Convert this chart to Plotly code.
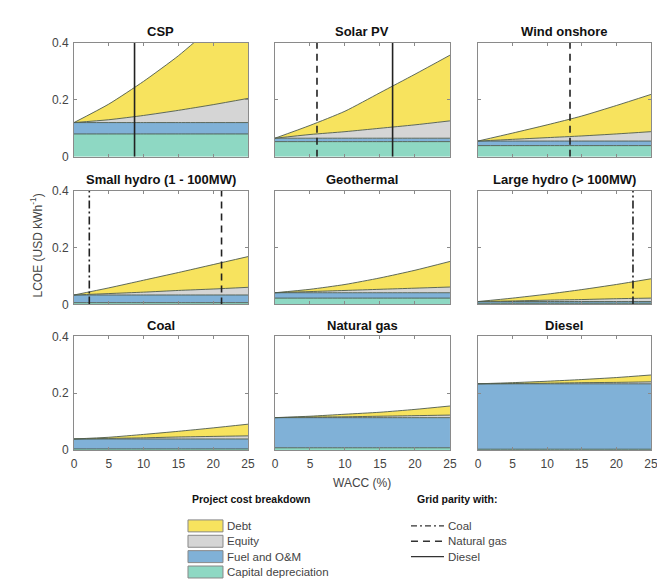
import plotly.graph_objects as go

W, H = 665, 581
wacc = [0, 5, 10, 15, 20, 25]

techs = ["CSP", "Solar PV", "Wind onshore",
         "Small hydro (1 - 100MW)", "Geothermal", "Large hydro (> 100MW)",
         "Coal", "Natural gas", "Diesel"]

# component values (USD/kWh) at each WACC
capital = {
    "CSP": [0.080]*6, "Solar PV": [0.053]*6, "Wind onshore": [0.039]*6,
    "Small hydro (1 - 100MW)": [0.006]*6, "Geothermal": [0.022]*6,
    "Large hydro (> 100MW)": [0.004]*6, "Coal": [0.004]*6,
    "Natural gas": [0.008]*6, "Diesel": [0.003]*6,
}
fuel_om = {
    "CSP": [0.040]*6, "Solar PV": [0.012]*6, "Wind onshore": [0.016]*6,
    "Small hydro (1 - 100MW)": [0.027]*6, "Geothermal": [0.019]*6,
    "Large hydro (> 100MW)": [0.006]*6, "Coal": [0.035]*6,
    "Natural gas": [0.106]*6, "Diesel": [0.230]*6,
}
equity = {
    "CSP": [0, 0.010, 0.025, 0.043, 0.063, 0.085],
    "Solar PV": [0, 0.013, 0.023, 0.035, 0.047, 0.061],
    "Wind onshore": [0, 0.006, 0.012, 0.018, 0.025, 0.033],
    "Small hydro (1 - 100MW)": [0, 0.005, 0.010, 0.016, 0.021, 0.027],
    "Geothermal": [0, 0.004, 0.008, 0.012, 0.016, 0.020],
    "Large hydro (> 100MW)": [0, 0.002, 0.005, 0.007, 0.010, 0.012],
    "Coal": [0, 0.002, 0.004, 0.007, 0.009, 0.011],
    "Natural gas": [0, 0.002, 0.003, 0.005, 0.007, 0.009],
    "Diesel": [0, 0.001, 0.002, 0.004, 0.005, 0.007],
}
debt = {
    "CSP": [0, 0.055, 0.120, 0.192, 0.277, 0.365],
    "Solar PV": [0, 0.032, 0.072, 0.125, 0.178, 0.231],
    "Wind onshore": [0, 0.022, 0.045, 0.070, 0.100, 0.131],
    "Small hydro (1 - 100MW)": [0, 0.020, 0.042, 0.063, 0.086, 0.108],
    "Geothermal": [0, 0.008, 0.021, 0.040, 0.063, 0.090],
    "Large hydro (> 100MW)": [0, 0.010, 0.021, 0.035, 0.050, 0.068],
    "Coal": [0, 0.004, 0.012, 0.020, 0.030, 0.041],
    "Natural gas": [0, 0.003, 0.009, 0.014, 0.022, 0.032],
    "Diesel": [0, 0.003, 0.007, 0.011, 0.017, 0.024],
}
# grid parity WACC values (%)
parity_coal = {"Small hydro (1 - 100MW)": 2.2, "Large hydro (> 100MW)": 22.4}
parity_gas = {"Solar PV": 6.0, "Wind onshore": 13.3, "Small hydro (1 - 100MW)": 21.2}
parity_diesel = {"CSP": 8.7, "Solar PV": 16.8}

x_ticks = [0, 5, 10, 15, 20, 25]
y_ticks = [0, 0.2, 0.4]
y_tick_labels = ["0", "0.2", "0.4"]

C_DEBT, C_EQ, C_FUEL, C_CAP = "#F7E35E", "#D5D5D5", "#80B1D7", "#8ED8C3"
EDGE = "#4d5a4d"
VL = "#222222"
FONT = "Liberation Sans"
TXT = "#444444"


def px(x):
    return ((x - 9) / 0.985) / W


def py(y):
    return 1 - ((y - 13) / 0.978) / H


col_px = [(72, 246), (273, 448), (476, 649)]
row_px = [(41, 155), (189, 303), (335, 449)]

fig = go.Figure()
layout = {}
annotations = []
for i, t in enumerate(techs):
    r, c = divmod(i, 3)
    n = i + 1
    xa = "x" if n == 1 else f"x{n}"
    ya = "y" if n == 1 else f"y{n}"
    for name, arr, col in [("Capital depreciation", capital[t], C_CAP),
                           ("Fuel and O&M", fuel_om[t], C_FUEL),
                           ("Equity", equity[t], C_EQ),
                           ("Debt", debt[t], C_DEBT)]:
        fig.add_trace(go.Scatter(
            x=wacc, y=arr, mode="lines", stackgroup=f"s{n}", fillcolor=col,
            line=dict(color=EDGE, width=0.9, shape="spline", smoothing=0.6),
            xaxis=xa, yaxis=ya, showlegend=False, name=name, hoverinfo="skip"))
    for d, dash in [(parity_coal, "8px,3px,2px,3px"), (parity_gas, "7px,5px"),
                    (parity_diesel, "solid")]:
        if t in d:
            fig.add_trace(go.Scatter(
                x=[d[t], d[t]], y=[0, 0.4], mode="lines",
                line=dict(color=VL, width=1.6, dash=dash),
                xaxis=xa, yaxis=ya, showlegend=False, hoverinfo="skip"))
    x0, x1 = col_px[c]
    y0, y1 = row_px[r]
    common = dict(showline=True, linecolor="#8a8a8a", linewidth=1, mirror="ticks",
                  ticks="inside", ticklen=3, tickcolor="#8a8a8a", showgrid=False,
                  zeroline=False, tickfont=dict(family=FONT, size=12, color=TXT))
    layout[f"xaxis{n}"] = dict(common, domain=[px(x0), px(x1)], range=[0, 25],
                               tickvals=x_ticks, showticklabels=(r == 2),
                               ticklabelstandoff=3, anchor=ya)
    layout[f"yaxis{n}"] = dict(common, domain=[py(y1), py(y0)], range=[0, 0.4],
                               tickvals=y_ticks, ticktext=y_tick_labels,
                               showticklabels=(c == 0), ticklabelstandoff=2, anchor=xa)
    annotations.append(dict(text=f"<b>{t}</b>", x=px((x0 + x1) / 2), y=py(y0 - 11),
                            xref="paper", yref="paper", showarrow=False,
                            font=dict(family=FONT, size=13, color="#111"),
                            xanchor="center", yanchor="middle"))

annotations.append(dict(text="WACC (%)", x=px(360.5), y=py(482), xref="paper",
                        yref="paper", showarrow=False, xanchor="center", yanchor="middle",
                        font=dict(family=FONT, size=12, color=TXT)))
annotations.append(dict(text="LCOE (USD kWh<sup>-1</sup>)", x=px(34), y=py(244),
                        xref="paper", yref="paper", showarrow=False, textangle=-90,
                        xanchor="center", yanchor="middle",
                        font=dict(family=FONT, size=12, color=TXT)))

shapes = []
# Legend: project cost breakdown
annotations.append(dict(text="<b>Project cost breakdown</b>", x=px(188), y=py(498),
                        xref="paper", yref="paper", showarrow=False, xanchor="left",
                        yanchor="middle", font=dict(family=FONT, size=10.5, color="#111")))
leg_items = [("Debt", C_DEBT), ("Equity", C_EQ), ("Fuel and O&M", C_FUEL),
             ("Capital depreciation", C_CAP)]
for k, (lab, col) in enumerate(leg_items):
    yc = 525 + k * 15.4
    shapes.append(dict(type="rect", xref="paper", yref="paper",
                       x0=px(186), x1=px(221), y0=py(yc + 6), y1=py(yc - 6),
                       fillcolor=col, line=dict(color="#888", width=1)))
    annotations.append(dict(text=lab, x=px(223), y=py(yc), xref="paper", yref="paper",
                            showarrow=False, xanchor="left", yanchor="middle",
                            font=dict(family=FONT, size=11.5, color=TXT)))
# Legend: grid parity
annotations.append(dict(text="<b>Grid parity with:</b>", x=px(413), y=py(498),
                        xref="paper", yref="paper", showarrow=False, xanchor="left",
                        yanchor="middle", font=dict(family=FONT, size=10.5, color="#111")))
par_items = [("Coal", "6px,3px,2px,3px"), ("Natural gas", "7px,5px"), ("Diesel", "solid")]
for k, (lab, dash) in enumerate(par_items):
    yc = 525 + k * 15.4
    shapes.append(dict(type="line", xref="paper", yref="paper",
                       x0=px(409), x1=px(442), y0=py(yc), y1=py(yc),
                       line=dict(color="#333", width=1.3, dash=dash)))
    annotations.append(dict(text=lab, x=px(444), y=py(yc), xref="paper", yref="paper",
                            showarrow=False, xanchor="left", yanchor="middle",
                            font=dict(family=FONT, size=11.5, color=TXT)))

fig.update_layout(width=W, height=H, margin=dict(l=0, r=0, t=0, b=0),
                  paper_bgcolor="white", plot_bgcolor="white",
                  annotations=annotations, shapes=shapes, **layout)
fig.write_html("out.html")
